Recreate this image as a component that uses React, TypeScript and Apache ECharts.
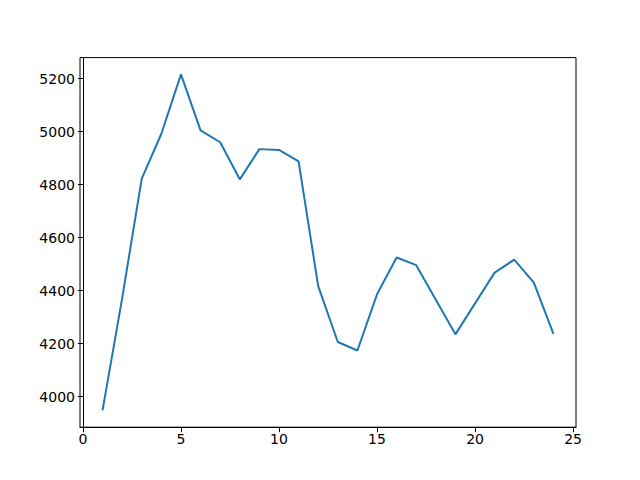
import { useEffect, useRef } from "react";
import * as echarts from "echarts";

// values, one per step 1..24
const steps = [1, 2, 3, 4, 5, 6, 7, 8, 9, 10, 11, 12, 13, 14, 15, 16, 17, 18, 19, 20, 21, 22, 23, 24];
const values = [
  3948, 4371, 4823, 4992, 5216, 5005, 4960, 4820, 4934, 4931, 4888, 4417,
  4206, 4174, 4386, 4525, 4496, 4366, 4235, 4352, 4468, 4517, 4430, 4237,
];
const xTicks = [0, 5, 10, 15, 20, 25];
const yTicks = [4000, 4200, 4400, 4600, 4800, 5000, 5200];

// matplotlib-style 5% auto margins
function padded(arr: number[]) {
  const lo = Math.min(...arr);
  const hi = Math.max(...arr);
  const m = (hi - lo) * 0.05;
  return [lo - m, hi + m];
}

export default function App() {
  const ref = useRef<HTMLDivElement>(null);

  useEffect(() => {
    if (!ref.current) return;
    const chart = echarts.init(ref.current, null, { renderer: "svg" });
    const [xMin, xMax] = padded(steps);
    const [yMin, yMax] = padded(values);
    const label = {
      color: "#000",
      fontSize: 14,
      fontFamily: "DejaVu Sans",
      formatter: (v: number) => String(v),
    };

    chart.setOption({
      animation: false,
      backgroundColor: "#fff",
      grid: {
        left: 80,
        right: 64,
        top: 57.6,
        bottom: 52.8,
        show: true,
        borderColor: "#000",
        borderWidth: 1,
        backgroundColor: "transparent",
      },
      xAxis: {
        type: "value",
        min: xMin,
        max: xMax,
        splitLine: { show: false },
        axisLine: { show: true, lineStyle: { color: "#000", width: 1 } },
        axisTick: { show: true, inside: false, length: 5, customValues: xTicks, lineStyle: { color: "#000", width: 1 } },
        axisLabel: { ...label, margin: 5, customValues: xTicks },
      },
      yAxis: {
        type: "value",
        min: yMin,
        max: yMax,
        splitLine: { show: false },
        axisLine: { show: true, lineStyle: { color: "#000", width: 1 } },
        axisTick: { show: true, inside: false, length: 5, customValues: yTicks, lineStyle: { color: "#000", width: 1 } },
        axisLabel: { ...label, margin: 5, customValues: yTicks },
      },
      series: [
        {
          type: "line",
          data: steps.map((s, i) => [s, values[i]]),
          showSymbol: false,
          symbol: "none",
          lineStyle: { color: "#1f77b4", width: 2 },
        },
      ],
    });
    return () => chart.dispose();
  }, []);

  return (
    <div
      ref={ref}
      style={{ position: "fixed", left: 0, top: 0, width: 640, height: 480 }}
    />
  );
}
